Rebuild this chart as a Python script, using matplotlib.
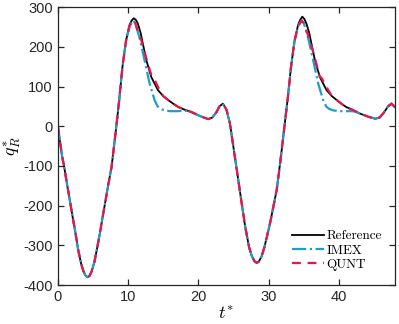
import numpy as np
import matplotlib.pyplot as plt

plt.rcParams['font.family'] = ['Liberation Sans', 'DejaVu Sans']
plt.rcParams['mathtext.fontset'] = 'cm'
plt.rcParams['axes.unicode_minus'] = False

# values
t_ref = [0, 0.3, 0.6, 0.9, 1.3, 1.7, 2.1, 2.5, 2.9, 3.3, 3.6, 3.9, 4.2, 4.5, 4.8, 5.2, 5.6,
         6.0, 6.4, 6.8, 7.2, 7.65, 8.2, 8.7, 9.2, 9.7, 10.2, 10.5, 10.8, 11.1, 11.4, 11.8,
         12.1, 12.6, 13.3, 14.25, 15.0, 15.7, 16.5, 17.1, 18.0, 19.0, 20.2, 21.4, 22.0,
         22.6, 23.0, 23.5, 24.0, 24.5, 25.2, 25.9, 26.6, 27.2, 27.6, 28.0, 28.3, 28.6,
         29.0, 29.4, 30.2, 31.15, 31.7, 32.2, 32.7, 33.2, 33.7, 34.2, 34.5, 34.8, 35.1,
         35.4, 35.8, 36.1, 36.6, 37.3, 38.25, 39.0, 39.7, 40.5, 41.1, 42.0, 43.0, 44.2,
         45.2, 45.8, 46.4, 47.0, 47.5, 48.0]
q_ref = [0, -38, -75, -102, -145, -186, -228, -268, -312, -345, -363, -375, -380, -377,
         -366, -342, -306, -268, -226, -186, -145, -102, -20, 60, 150, 215, 255, 266, 272,
         268, 258, 234, 208, 166, 124, 91, 76, 66, 56, 49, 42, 36, 26, 18, 22, 36, 50, 57,
         42, 7, -77, -161, -245, -303, -326, -340, -344, -341, -328, -305, -245, -161,
         -85, -10, 66, 150, 215, 255, 268, 276, 270, 258, 234, 208, 166, 124, 91, 76, 66,
         55, 48, 41, 32, 24, 19, 22, 34, 50, 57, 48]

t_imex = [0, 0.3, 0.6, 0.9, 1.3, 1.7, 2.1, 2.5, 2.9, 3.3, 3.6, 3.9, 4.2, 4.5, 4.8, 5.2, 5.6,
          6.0, 6.4, 6.8, 7.2, 7.65, 8.2, 8.7, 9.2, 9.7, 10.2, 10.7, 11.0, 11.6, 12.35,
          13.06, 13.77, 14.2, 14.6, 15.2, 16.0, 17.0, 17.8, 18.4, 19.0, 20.2, 21.4, 22.0,
          22.6, 23.0, 23.5, 24.0, 24.5, 25.2, 25.9, 26.6, 27.2, 27.6, 28.0, 28.3, 28.6,
          29.0, 29.4, 30.2, 31.15, 31.7, 32.2, 32.7, 33.2, 33.7, 34.2, 34.7, 35.0, 35.6,
          36.35, 37.06, 37.77, 38.2, 38.6, 39.2, 40.0, 41.0, 41.8, 42.3, 43.0, 44.2, 45.2,
          45.8, 46.4, 47.0, 47.5, 48.0]
q_imex = [0, -38, -75, -102, -145, -186, -228, -268, -312, -345, -363, -375, -380, -377,
          -366, -342, -306, -268, -226, -186, -145, -102, -20, 60, 150, 215, 252, 267, 260,
          225, 166, 108, 66, 50, 44, 40, 38, 38, 39, 39, 36, 26, 18, 22, 36, 50, 57, 42, 7,
          -77, -161, -245, -303, -326, -340, -344, -341, -328, -305, -245, -161, -85, -10,
          66, 150, 215, 252, 267, 260, 225, 166, 108, 66, 50, 44, 40, 38, 38, 38, 37, 32,
          24, 19, 22, 34, 50, 57, 48]

t_qunt = [0, 0.3, 0.6, 0.9, 1.3, 1.7, 2.1, 2.5, 2.9, 3.3, 3.6, 3.9, 4.2, 4.5, 4.8, 5.2, 5.6,
          6.0, 6.4, 6.8, 7.2, 7.65, 8.2, 8.7, 9.2, 9.7, 10.2, 10.68, 11.0, 11.87, 12.8,
          13.3, 13.7, 14.25, 15.0, 15.7, 16.5, 17.1, 18.0, 19.0, 20.2, 21.4, 22.0, 22.6,
          23.0, 23.5, 24.0, 24.5, 25.2, 25.9, 26.6, 27.2, 27.6, 28.0, 28.3, 28.6, 29.0,
          29.4, 30.2, 31.15, 31.7, 32.2, 32.7, 33.2, 33.7, 34.2, 34.7, 35.0, 35.87, 36.8,
          37.2, 37.6, 38.2, 39.0, 39.7, 40.5, 41.1, 42.0, 43.0, 44.2, 45.2, 45.8, 46.4,
          47.0, 47.5, 48.0]
q_qunt = [0, -38, -75, -102, -145, -186, -228, -268, -312, -345, -363, -375, -380, -377,
          -366, -342, -306, -268, -226, -186, -145, -102, -20, 60, 150, 215, 252, 267, 260,
          217, 158, 130, 120, 99, 76, 66, 56, 49, 42, 36, 26, 18, 22, 36, 50, 57, 42, 7,
          -77, -161, -245, -303, -326, -340, -344, -341, -328, -305, -245, -161, -85, -10,
          66, 150, 215, 252, 266, 260, 217, 158, 128, 120, 100, 76, 66, 55, 48, 41, 32, 24,
          19, 22, 34, 50, 57, 48]

fig = plt.figure(figsize=(3.99, 3.24), dpi=100)
ax = fig.add_axes([0.145, 0.12, 0.845, 0.858])

ax.plot(t_ref, q_ref, color='black', lw=1.3, label='Reference')
ax.plot(t_imex, q_imex, color='#1f9dca', lw=1.6, ls='-.', label='IMEX')
ax.plot(t_qunt, q_qunt, color='#e8174b', lw=1.6, ls=(0, (4, 3)), label='QUNT')

ax.set_xlim(0, 48)
ax.set_ylim(-400, 300)
ax.set_xticks([0, 10, 20, 30, 40])
ax.set_yticks(np.arange(-400, 301, 100))
ax.tick_params(direction='in', top=True, right=True, length=4, width=0.9,
               labelsize=10.5, colors='#262626')
for s in ax.spines.values():
    s.set_linewidth(0.9)
    s.set_color('#262626')

ax.set_xlabel(r'$t^{*}$', fontsize=13, labelpad=2)
ax.set_ylabel(r'$q_R^{*}$', fontsize=13, labelpad=0)

ax.legend(loc='lower right', bbox_to_anchor=(0.98, 0.028), frameon=False,
          prop={'family': 'cmr10', 'size': 9.5}, handlelength=2.4,
          handletextpad=0.2, labelspacing=0.15, borderpad=0)

fig.savefig('out.png', dpi=100)
